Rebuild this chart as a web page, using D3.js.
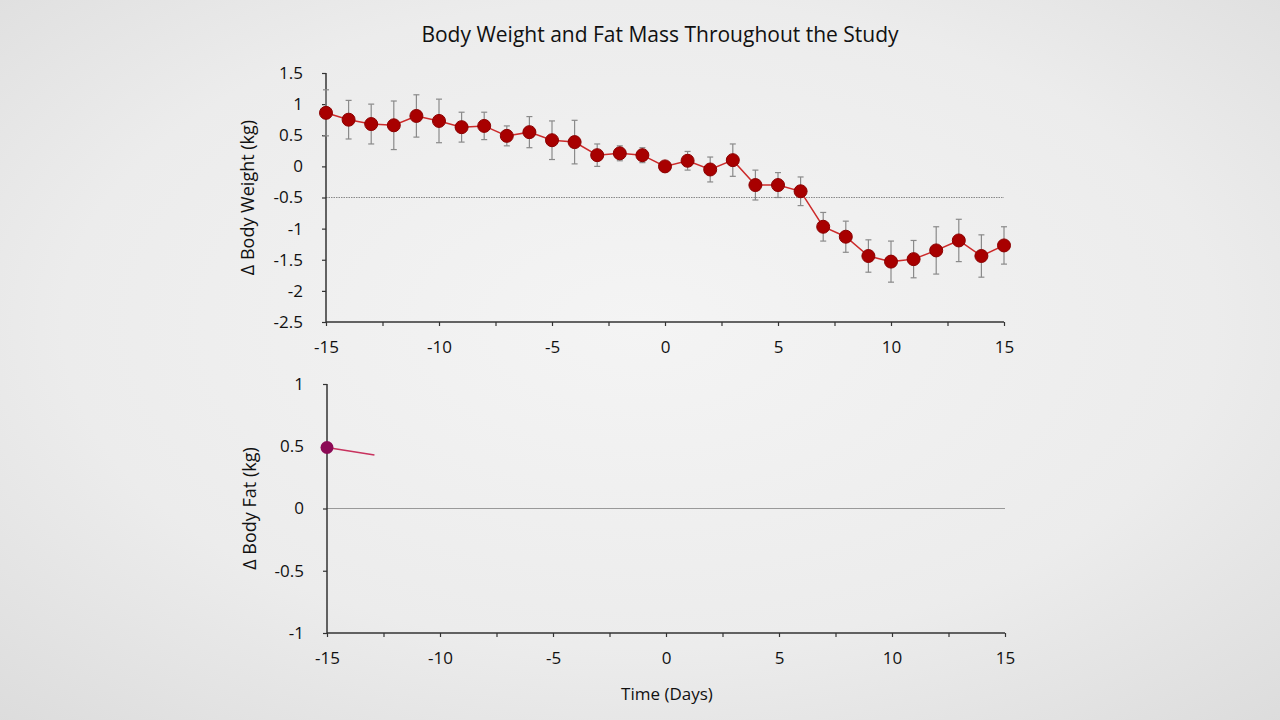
<!DOCTYPE html>
<html>
<head>
<meta charset="utf-8">
<script src="https://cdn.jsdelivr.net/npm/d3@7"></script>
<style>
  body { margin: 0; }
  svg { display: block; font-family: "Open Sans", Lato, sans-serif; }
</style>
</head>
<body>
<div id="chart"></div>
<script>
// days -15..15
const days = [-15,-14,-13,-12,-11,-10,-9,-8,-7,-6,-5,-4,-3,-2,-1,0,1,2,3,4,5,6,7,8,9,10,11,12,13,14,15];
const weightChange = [0.86,0.75,0.68,0.66,0.81,0.73,0.63,0.65,0.49,0.55,0.42,0.39,0.18,0.21,0.18,0,0.09,-0.05,0.1,-0.3,-0.3,-0.4,-0.97,-1.13,-1.44,-1.53,-1.49,-1.35,-1.19,-1.44,-1.27];
const weightErr = [0.37,0.31,0.32,0.39,0.34,0.35,0.24,0.22,0.16,0.25,0.31,0.35,0.18,0.12,0.12,0,0.15,0.2,0.26,0.24,0.2,0.23,0.23,0.25,0.26,0.33,0.3,0.38,0.34,0.34,0.3];

// only the start of the fat series is drawn so far
const fatDays = [-15, -12.9];
const fatChange = [0.49, 0.43];

const xTicks = [-15,-12.5,-10,-7.5,-5,-2.5,0,2.5,5,7.5,10,12.5,15];
const weightTicks = [-2.5,-2,-1.5,-1,-0.5,0,0.5,1,1.5];
const fatTicks = [-1,-0.5,0,0.5,1];

const width = 1280, height = 720;

const svg = d3.select('#chart').append('svg')
    .attr('width', width)
    .attr('height', height);

const grad = svg.append('defs').append('radialGradient')
    .attr('id', 'bg').attr('cx', '50%').attr('cy', '45%').attr('r', '75%');
grad.append('stop').attr('offset', '0%').attr('stop-color', '#f4f4f4');
grad.append('stop').attr('offset', '60%').attr('stop-color', '#ececec');
grad.append('stop').attr('offset', '100%').attr('stop-color', '#dcdcdc');
svg.append('rect').attr('width', width).attr('height', height).attr('fill', 'url(#bg)');

svg.append('text')
    .attr('x', 660).attr('y', 42)
    .attr('text-anchor', 'middle')
    .attr('font-size', 21)
    .attr('fill', '#111')
    .text('Body Weight and Fat Mass Throughout the Study');

const fmt = d => String(d);

function drawAxes(g, x, y, yTicks, yLabel, labelX) {
    const [y0, y1] = y.range();
    const [x0, x1] = x.range();

    const xa = g.append('g')
        .attr('transform', `translate(0,${y0})`)
        .call(d3.axisBottom(x).tickValues(xTicks).tickSize(4).tickPadding(15)
            .tickFormat(d => d % 5 === 0 ? fmt(d) : ''));
    const ya = g.append('g')
        .attr('transform', `translate(${x0},0)`)
        .call(d3.axisLeft(y).tickValues(yTicks).tickSize(4).tickPadding(19).tickFormat(fmt));

    [xa, ya].forEach(a => {
        a.select('.domain').attr('stroke', '#333').attr('stroke-width', 1.5);
        a.selectAll('.tick line').attr('stroke', '#333').attr('stroke-width', 1.2);
        a.selectAll('.tick text').attr('font-size', 17).attr('fill', '#111')
            .attr('font-family', '"Open Sans", Lato, sans-serif');
    });
    ya.select('.domain').attr('d', `M0,${y1}V${y0}`);
    xa.select('.domain').attr('d', `M${x0},0H${x1}`);

    g.append('text')
        .attr('transform', `translate(${labelX},${(y0 + y1) / 2}) rotate(-90)`)
        .attr('text-anchor', 'middle')
        .attr('font-size', 18)
        .attr('fill', '#111')
        .text(yLabel);
}

// top: body weight
const xW = d3.scaleLinear().domain([-15, 15]).range([326, 1004]);
const yW = d3.scaleLinear().domain([-2.5, 1.5]).range([322, 73]);
const topG = svg.append('g');

topG.append('line')
    .attr('x1', xW(-15)).attr('x2', xW(15))
    .attr('y1', yW(-0.5)).attr('y2', yW(-0.5))
    .attr('stroke', '#888').attr('stroke-width', 1).attr('stroke-dasharray', '1.5,1');

drawAxes(topG, xW, yW, weightTicks, 'Δ Body Weight (kg)', 254);

const wData = days.map((d, i) => ({ day: d, v: weightChange[i], e: weightErr[i] }));
const withErr = wData.filter(d => d.e > 0);

const eb = topG.append('g').attr('stroke', '#8a8a8a').attr('stroke-width', 1.2);
eb.selectAll('line.v').data(withErr).join('line').attr('class', 'v')
    .attr('x1', d => xW(d.day)).attr('x2', d => xW(d.day))
    .attr('y1', d => yW(d.v + d.e)).attr('y2', d => yW(d.v - d.e));
eb.selectAll('line.t').data(withErr).join('line').attr('class', 't')
    .attr('x1', d => xW(d.day) - 3).attr('x2', d => xW(d.day) + 3)
    .attr('y1', d => yW(d.v + d.e)).attr('y2', d => yW(d.v + d.e));
eb.selectAll('line.b').data(withErr).join('line').attr('class', 'b')
    .attr('x1', d => xW(d.day) - 3).attr('x2', d => xW(d.day) + 3)
    .attr('y1', d => yW(d.v - d.e)).attr('y2', d => yW(d.v - d.e));

topG.append('path')
    .datum(wData)
    .attr('fill', 'none')
    .attr('stroke', '#cc2a2a')
    .attr('stroke-width', 1.5)
    .attr('d', d3.line().x(d => xW(d.day)).y(d => yW(d.v)));

topG.selectAll('circle').data(wData).join('circle')
    .attr('cx', d => xW(d.day)).attr('cy', d => yW(d.v))
    .attr('r', 6.5)
    .attr('fill', '#a80000')
    .attr('stroke', '#8a0000').attr('stroke-width', 1);

// bottom: body fat
const xF = d3.scaleLinear().domain([-15, 15]).range([327, 1005]);
const yF = d3.scaleLinear().domain([-1, 1]).range([633, 384]);
const botG = svg.append('g');

botG.append('line')
    .attr('x1', xF(-15)).attr('x2', xF(15))
    .attr('y1', yF(0)).attr('y2', yF(0))
    .attr('stroke', '#999').attr('stroke-width', 1);

drawAxes(botG, xF, yF, fatTicks, 'Δ Body Fat (kg)', 256);

const fData = fatDays.map((d, i) => ({ day: d, v: fatChange[i] }));
botG.append('path')
    .datum(fData)
    .attr('fill', 'none')
    .attr('stroke', '#c8325e')
    .attr('stroke-width', 1.5)
    .attr('d', d3.line().x(d => xF(d.day)).y(d => yF(d.v)));

botG.selectAll('circle').data(fData.slice(0, 1)).join('circle')
    .attr('cx', d => xF(d.day)).attr('cy', d => yF(d.v))
    .attr('r', 6.5)
    .attr('fill', '#8c0a55');

svg.append('text')
    .attr('x', 667).attr('y', 700)
    .attr('text-anchor', 'middle')
    .attr('font-size', 17)
    .attr('fill', '#111')
    .text('Time (Days)');
</script>
</body>
</html>
